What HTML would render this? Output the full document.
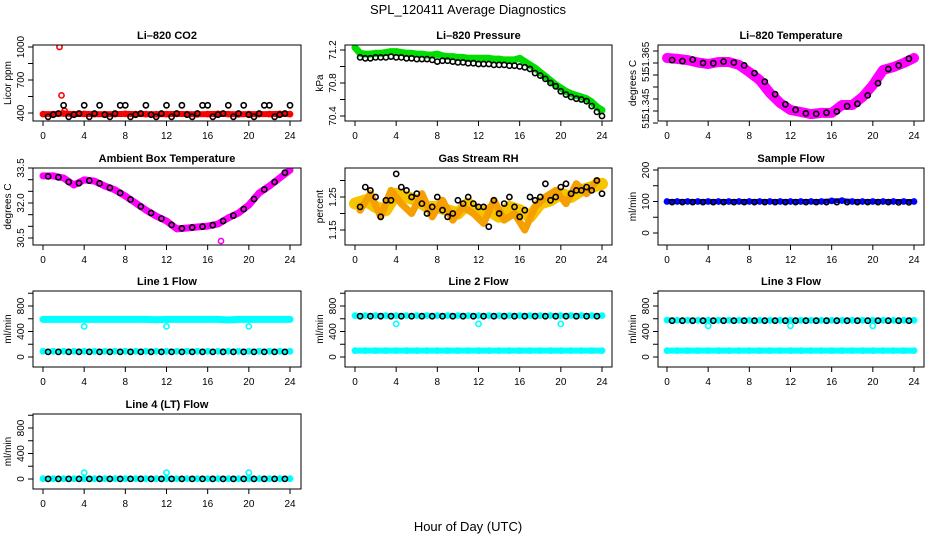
<!DOCTYPE html>
<html><head><meta charset="utf-8"><style>
html,body{margin:0;padding:0;background:#fff;}
svg{display:block;font-family:"Liberation Sans",sans-serif;}
</style></head><body>
<svg id="c" width="936" height="540" xmlns="http://www.w3.org/2000/svg">
<text x="468" y="14" text-anchor="middle" font-size="13">SPL_120411  Average Diagnostics</text>
<text x="468" y="531" text-anchor="middle" font-size="13">Hour of Day (UTC)</text>
</svg>
<script>
const H25=[0,1,2,3,4,5,6,7,8,9,10,11,12,13,14,15,16,17,18,19,20,21,22,23,24];
const HB=[0.5,1,1.5,2,2.5,3,3.5,4,4.5,5,5.5,6,6.5,7,7.5,8,8.5,9,9.5,10,10.5,11,11.5,12,12.5,13,13.5,14,14.5,15,15.5,16,16.5,17,17.5,18,18.5,19,19.5,20,20.5,21,21.5,22,22.5,23,23.5,24];
const HH=[0,0.5,1,1.5,2,2.5,3,3.5,4,4.5,5,5.5,6,6.5,7,7.5,8,8.5,9,9.5,10,10.5,11,11.5,12,12.5,13,13.5,14,14.5,15,15.5,16,16.5,17,17.5,18,18.5,19,19.5,20,20.5,21,21.5,22,22.5,23,23.5,24];
const co2Red=[390,390,395,390,392,390,388,390,392,390,390,388,390,392,390,388,390,392,390,388,390,390,390,392,390];
const co2OutX=[1.6,1.8,2.1];
const co2OutY=[1000,560,420];
const co2Black=[365,385,395,470,365,385,395,470,365,395,470,385,365,395,470,470,365,385,395,470,385,365,395,470,365,395,470,385,365,395,470,470,365,385,395,470,365,395,470,385,365,395,470,470,365,385,395,470];
const presGreen=[71.23,71.16,71.15,71.15,71.16,71.16,71.17,71.18,71.18,71.17,71.16,71.16,71.15,71.15,71.14,71.14,71.15,71.13,71.12,71.12,71.11,71.11,71.10,71.10,71.10,71.10,71.10,71.09,71.09,71.08,71.08,71.08,71.10,71.06,71.02,70.98,70.93,70.88,70.83,70.78,70.74,70.70,70.67,70.65,70.63,70.61,70.57,70.51,70.47];
const presBlack=[71.11,71.10,71.10,71.11,71.11,71.11,71.12,71.11,71.11,71.10,71.10,71.09,71.09,71.09,71.08,71.06,71.07,71.07,71.06,71.05,71.05,71.04,71.04,71.03,71.03,71.03,71.02,71.02,71.02,71.01,71.01,71.00,70.99,70.97,70.92,70.89,70.85,70.80,70.76,70.70,70.66,70.63,70.61,70.60,70.58,70.52,70.45,70.40];
const tempMag=[51.3671,51.3667,51.3662,51.3652,51.3646,51.3654,51.3654,51.3642,51.3612,51.3579,51.3525,51.3483,51.3454,51.3446,51.3437,51.3442,51.3442,51.3475,51.3475,51.3508,51.3558,51.3621,51.3633,51.3650,51.3671];
const tempBlack=[51.3662,51.3658,51.3664,51.3650,51.3649,51.3656,51.3652,51.3640,51.3608,51.3572,51.3520,51.3478,51.3455,51.3440,51.3438,51.3443,51.3448,51.3470,51.3480,51.3515,51.3566,51.3625,51.3640,51.3668];
const ambMag=[33.16,33.16,33.07,32.77,32.99,32.94,32.73,32.56,32.30,32.0,31.70,31.44,31.23,30.89,30.93,30.97,31.01,31.10,31.36,31.57,31.91,32.43,32.73,33.07,33.41];
const ambBlack=[33.14,33.10,32.90,32.85,32.96,32.84,32.65,32.43,32.15,31.85,31.57,31.33,31.06,30.91,30.95,30.99,31.05,31.23,31.46,31.74,32.17,32.58,32.90,33.30];
const rhOrange=[1.23,1.24,1.22,1.21,1.26,1.25,1.24,1.22,1.22,1.21,1.20,1.23,1.20,1.21,1.19,1.22,1.21,1.19,1.23,1.24,1.26,1.25,1.27,1.28,1.29];
const rhOrange2=[1.21,1.26,1.19,1.27,1.23,1.20,1.26,1.19,1.24,1.18,1.22,1.20,1.17,1.24,1.18,1.20,1.15,1.22,1.25,1.27,1.23,1.29,1.26,1.30,1.31];
const rhBlack=[1.22,1.28,1.27,1.25,1.19,1.24,1.24,1.32,1.28,1.27,1.25,1.26,1.23,1.20,1.22,1.25,1.21,1.19,1.20,1.24,1.23,1.25,1.23,1.22,1.22,1.16,1.24,1.20,1.23,1.25,1.22,1.19,1.21,1.25,1.24,1.25,1.29,1.24,1.25,1.28,1.29,1.26,1.27,1.27,1.28,1.27,1.30,1.26];
const sampBlue=[100,100,100,100,100,100,100,100,100,100,100,100,100,100,100,100,102,103,100,100,100,100,100,100,100];
const sampBlack=[98,98,98,98,98,98,98,98,98,98,98,98,98,98,98,98,98,98,98,98,98,98,97,97];
const l1CyanHi=[590,590,590,590,590,590,590,590,590,590,590,585,590,590,590,590,590,590,580,590,590,590,590,590,590];
const l1CyanLo=[90,90,90,90,90,90,90,90,90,90,90,90,90,90,90,90,90,90,90,90,90,90,90,90,90];
const l1Black=[80,80,80,80,80,80,80,80,80,80,80,80,80,80,80,80,80,80,80,80,80,80,80,80];
const l1OutY=[480,480,480];
const l2CyanHi=[650,650,650,650,650,650,650,650,650,650,650,650,650,650,650,650,650,650,650,650,650,650,650,650,650];
const l2CyanLo=[100,100,100,100,100,100,100,100,100,100,100,100,100,100,100,100,100,100,100,100,100,100,100,100,100];
const l2Black=[640,640,640,640,640,640,640,640,640,640,640,640,640,640,640,640,640,640,640,640,640,640,640,640];
const l2OutY=[520,520,520];
const l3CyanHi=[580,575,575,575,575,575,575,575,575,575,575,575,575,575,575,575,575,575,575,575,575,575,575,575,575];
const l3CyanLo=[100,100,100,100,100,100,100,100,100,100,100,100,100,100,100,100,100,100,100,100,100,100,100,100,100];
const l3Black=[570,570,570,570,570,570,570,570,570,570,570,570,570,570,570,570,570,570,570,570,570,570,570,570];
const l3OutY=[490,490,490];
const l4Cyan=[5,5,5,5,5,5,5,5,5,5,5,5,5,5,5,5,5,5,5,5,5,5,5,5,5];
const l4Black=[2,2,2,2,2,2,2,2,2,2,2,2,2,2,2,2,2,2,2,2,2,2,2,2];
const l4OutY=[100,100,100];
const outX=[4,12,20];
const xTicks=[0,4,8,12,16,20,24];

const svg=document.getElementById('c');
const NS='http://www.w3.org/2000/svg';
function mk(tag,attrs,parent){const e=document.createElementNS(NS,tag);for(const k in attrs)e.setAttribute(k,attrs[k]);(parent||svg).appendChild(e);return e;}
const cols=[[33,301,43],[345,612,355],[658,924,667]];
const rows=[[45,121],[168,245],[291,367],[414,489]];

function panel(p){
  const [bl,br,x0]=cols[p.col];const [bt,bb]=rows[p.row];
  const g=mk('g',{});
  
  
  const xs=h=>x0+h*(247/24);
  const ys=v=>p.y0+(v-p.v0)*(p.y1-p.y0)/(p.v1-p.v0);
  const cp='cp'+p.name;
  const clip=mk('clipPath',{id:cp},g);mk('rect',{x:bl,y:bt,width:br-bl,height:bb-bt},clip);
  const plot=mk('g',{'clip-path':'url(#'+cp+')'},g);
  p.series.forEach(s=>{
    const n=Math.min(s.x.length,s.y.length);
    if(s.band){
      let d='';for(let i=0;i<n;i++)d+=(i?'L':'M')+xs(s.x[i]).toFixed(1)+' '+ys(s.y[i]).toFixed(1);
      const l=mk('path',{d:d,fill:'none',stroke:s.color,'stroke-width':s.band,'stroke-linecap':'round','stroke-linejoin':'round'},plot);
      
      
    }
    for(let i=0;i<n;i++){
      const c=mk('circle',{cx:xs(s.x[i]).toFixed(1),cy:ys(s.y[i]).toFixed(1),r:2.6,fill:'none',stroke:s.color,'stroke-width':1.6},plot);
      
      
    }
  });
  const bx=mk('rect',{x:bl,y:bt,width:br-bl,height:bb-bt,fill:'none',stroke:'#000','stroke-width':1},g);
  
  
  const t=mk('text',{x:(bl+br)/2,y:bt-6,'text-anchor':'middle','font-size':11,'font-weight':'bold'},g);
  t.textContent=p.title;
  
  
  xTicks.forEach(h=>{
    const x=xs(h);mk('line',{x1:x,x2:x,y1:bb,y2:bb+5,stroke:'#000'},g);
    const tx=mk('text',{x:x,y:bb+18,'text-anchor':'middle','font-size':10},g);tx.textContent=h;
    
    
  });
  p.ticks.forEach((v,i)=>{
    const y=ys(v);if(y<bt-3||y>bb+3)return;
    mk('line',{x1:bl-5,x2:bl,y1:y,y2:y,stroke:'#000'},g);
    if(!p.labelAt&&p.labels[i]){const ty=mk('text',{x:bl-9,y:y,'text-anchor':'middle','font-size':10,transform:'rotate(-90 '+(bl-9)+' '+y+')'},g);ty.textContent=p.labels[i];
      
      }
  });
  if(p.labelAt){p.labelAt.forEach((v,i)=>{const y=ys(v);
    const ty=mk('text',{x:bl-9,y:y,'text-anchor':'middle','font-size':10,transform:'rotate(-90 '+(bl-9)+' '+y+')'},g);ty.textContent=p.labels[i];
    
    });}
  const yl=mk('text',{x:bl-22,y:(bt+bb)/2,'text-anchor':'middle','font-size':10,transform:'rotate(-90 '+(bl-22)+' '+((bt+bb)/2)+')'},g);
  yl.textContent=p.ylab;
  
  
}
const K='#000',CY='#00ffff';
panel({name:'co2-panel',title:'Li\u2013820 CO2',col:0,row:0,v0:400,y0:113,v1:1000,y1:47,ticks:[400,550,700,850,1000],labels:['400','','700','','1000'],ylab:'Licor ppm',
 series:[{name:'co2-red',x:H25,y:co2Red,color:'#ff0000',band:6},{name:'co2-outlier',x:co2OutX,y:co2OutY,color:'#ff0000'},{name:'co2-black',x:HB,y:co2Black,color:K}]});
panel({name:'pressure-panel',title:'Li\u2013820 Pressure',col:1,row:0,v0:70.4,y0:116,v1:71.2,y1:50,ticks:[70.4,70.6,70.8,71.0,71.2],labels:['70.4','','70.8','','71.2'],ylab:'kPa',
 series:[{name:'pressure-green',x:HH,y:presGreen,color:'#00dd00',band:7},{name:'pressure-black',x:HB,y:presBlack,color:K}]});
panel({name:'li820-temp-panel',title:'Li\u2013820 Temperature',col:2,row:0,v0:51.365,y0:63,v1:51.345,y1:111,ticks:[51.37,51.365,51.36,51.355,51.35,51.345,51.34],labelAt:[51.3675,51.36,51.348,51.3405],labels:['51.365','51.','51.345','51.'],ylab:'degrees C',
 series:[{name:'li820-temp-magenta',x:H25,y:tempMag,color:'#ff00ff',band:10},{name:'li820-temp-black',x:HB.filter((h,i)=>i%2===0),y:tempBlack,color:K}]});
panel({name:'ambient-temp-panel',title:'Ambient Box Temperature',col:0,row:1,v0:30.5,y0:238,v1:33.5,y1:168,ticks:[30.5,31,31.5,32,32.5,33,33.5],labels:['30.5','','','32.0','','','33.5'],ylab:'degrees C',
 series:[{name:'ambient-magenta',x:H25,y:ambMag,color:'#ff00ff',band:7},{name:'ambient-outlier',x:[17.3],y:[30.37],color:'#ff00ff'},{name:'ambient-black',x:HB.filter((h,i)=>i%2===0),y:ambBlack,color:K}]});
panel({name:'rh-panel',title:'Gas Stream RH',col:1,row:1,v0:1.15,y0:230,v1:1.35,y1:164,ticks:[1.15,1.2,1.25,1.3,1.35],labels:['1.15','','1.25','','1.35'],ylab:'percent',
 series:[{name:'rh-orange',x:H25,y:rhOrange,color:'#f7c400',band:12},{name:'rh-orange-scatter',x:HB.filter((h,i)=>i%2===0),y:rhOrange2,color:'#f5a000',band:7},{name:'rh-black',x:HB,y:rhBlack,color:K}]});
panel({name:'sample-flow-panel',title:'Sample Flow',col:2,row:1,v0:0,y0:233,v1:200,y1:170,ticks:[0,50,100,150,200],labels:['0','','100','','200'],ylab:'ml/min',
 series:[{name:'sample-blue',x:H25,y:sampBlue,color:'#0000ff',band:5},{name:'sample-black',x:HB.filter((h,i)=>i%2===0),y:sampBlack,color:K}]});
function flow(name,title,col,row,series){const [bt,bb]=rows[row];panel({name:name,title:title,col:col,row:row,v0:0,y0:bb-10,v1:800,y1:bb-61,ticks:[0,200,400,600,800,1000],labels:['0','','400','','800',''],ylab:'ml/min',series:series});}
flow('line1-panel','Line 1 Flow',0,2,[{name:'line1-cyan-high',x:H25,y:l1CyanHi,color:CY,band:7},{name:'line1-cyan-low',x:H25,y:l1CyanLo,color:CY,band:5},{name:'line1-outlier',x:outX,y:l1OutY,color:CY},{name:'line1-black',x:HB.filter((h,i)=>i%2===0),y:l1Black,color:K}]);
flow('line2-panel','Line 2 Flow',1,2,[{name:'line2-cyan-high',x:H25,y:l2CyanHi,color:CY,band:5},{name:'line2-cyan-low',x:H25,y:l2CyanLo,color:CY,band:6},{name:'line2-outlier',x:outX,y:l2OutY,color:CY},{name:'line2-black',x:HB.filter((h,i)=>i%2===0),y:l2Black,color:K}]);
flow('line3-panel','Line 3 Flow',2,2,[{name:'line3-cyan-high',x:H25,y:l3CyanHi,color:CY,band:5},{name:'line3-cyan-low',x:H25,y:l3CyanLo,color:CY,band:6},{name:'line3-outlier',x:outX,y:l3OutY,color:CY},{name:'line3-black',x:HB.filter((h,i)=>i%2===0),y:l3Black,color:K}]);
flow('line4-panel','Line 4 (LT) Flow',0,3,[{name:'line4-cyan',x:H25,y:l4Cyan,color:CY,band:5},{name:'line4-outlier',x:outX,y:l4OutY,color:CY},{name:'line4-black',x:HB.filter((h,i)=>i%2===0),y:l4Black,color:K}]);
</script>
</body></html>
